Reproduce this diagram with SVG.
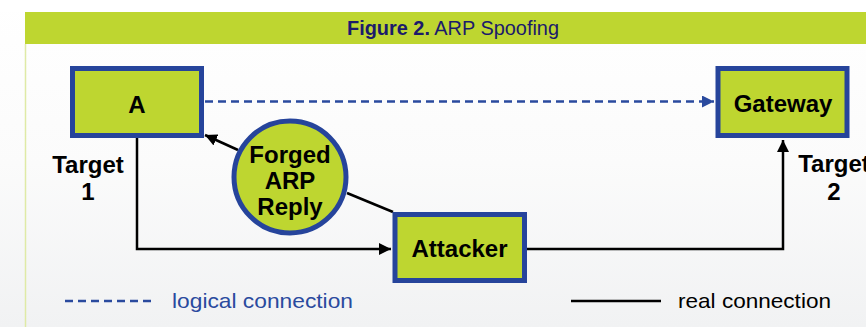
<svg xmlns="http://www.w3.org/2000/svg" width="866" height="327" viewBox="0 0 866 327">
<defs>
<linearGradient id="bg" x1="0" y1="0" x2="0" y2="1">
<stop offset="0" stop-color="#ffffff"/>
<stop offset="0.5" stop-color="#fbfbfb"/>
<stop offset="1" stop-color="#f1f2f3"/>
</linearGradient>
<marker id="ab" viewBox="0 0 12 12" refX="12" refY="6" markerWidth="12" markerHeight="12" markerUnits="userSpaceOnUse" orient="auto">
<path d="M0,0 L12,6 L0,12 Z" fill="#000"/>
</marker>
<marker id="abl" viewBox="0 0 12 12" refX="12" refY="6" markerWidth="12" markerHeight="12" markerUnits="userSpaceOnUse" orient="auto">
<path d="M0,0 L12,6 L0,12 Z" fill="#2a4a9e"/>
</marker>
</defs>
<style>
.node{fill:#bed630;stroke:#26449b;stroke-width:5}
.lbl{font-family:"Liberation Sans",Arial,sans-serif;font-weight:bold;font-size:24px;fill:#000;text-anchor:middle}
.real{fill:none;stroke:#000;stroke-width:2.5}
.logic{fill:none;stroke:#2a4a9e;stroke-width:2.5;stroke-dasharray:8,5}
.leg{font-family:"Liberation Sans",Arial,sans-serif;font-size:21px}
</style>
<rect x="0" y="0" width="866" height="327" fill="url(#bg)"/>
<rect x="0" y="0" width="866" height="12" fill="#fff"/>
<g id="title">
<rect x="25" y="12" width="841" height="32" fill="#bed630"/>
<line x1="25.5" y1="44" x2="25.5" y2="327" stroke="#dfeaa6" stroke-width="1.5"/>
<text x="453" y="35" font-family="&quot;Liberation Sans&quot;,Arial,sans-serif" font-size="20" fill="#1b1a6b" text-anchor="middle" textLength="212" lengthAdjust="spacingAndGlyphs"><tspan font-weight="bold">Figure 2.</tspan> ARP Spoofing</text>
</g>
<g id="connectors">
<line class="logic" x1="205" y1="101.5" x2="714" y2="101.5" marker-end="url(#abl)"/>
<polyline class="real" points="137,138 137,249 391,249" marker-end="url(#ab)"/>
<polyline class="real" points="527,249 783,249 783,140" marker-end="url(#ab)"/>
<line class="real" x1="238" y1="150" x2="205" y2="135" marker-end="url(#ab)"/>
<line class="real" x1="347" y1="193" x2="393" y2="212"/>
</g>
<g id="node-a">
<rect class="node" x="72.5" y="68.5" width="129" height="67"/>
<text class="lbl" x="137" y="113">A</text>
<text class="lbl" x="88" y="173">Target</text>
<text class="lbl" x="88" y="200">1</text>
</g>
<g id="node-gateway">
<rect class="node" x="718" y="68.5" width="129" height="67"/>
<text class="lbl" x="783" y="112">Gateway</text>
<text class="lbl" x="834" y="172">Target</text>
<text class="lbl" x="834" y="200">2</text>
</g>
<g id="node-forged">
<circle class="node" cx="290" cy="177" r="56"/>
<text class="lbl" x="290" y="163">Forged</text>
<text class="lbl" x="290" y="189">ARP</text>
<text class="lbl" x="290" y="215">Reply</text>
</g>
<g id="node-attacker">
<rect class="node" x="395" y="214.5" width="129.5" height="66"/>
<text class="lbl" x="459.5" y="257">Attacker</text>
</g>
<g id="legend">
<line class="logic" x1="65" y1="301" x2="155" y2="301"/>
<text class="leg" x="172" y="308" fill="#2a4a9e" textLength="181" lengthAdjust="spacingAndGlyphs">logical connection</text>
<line class="real" x1="571" y1="301" x2="661" y2="301"/>
<text class="leg" x="678" y="308" fill="#000" textLength="153" lengthAdjust="spacingAndGlyphs">real connection</text>
</g>
</svg>
